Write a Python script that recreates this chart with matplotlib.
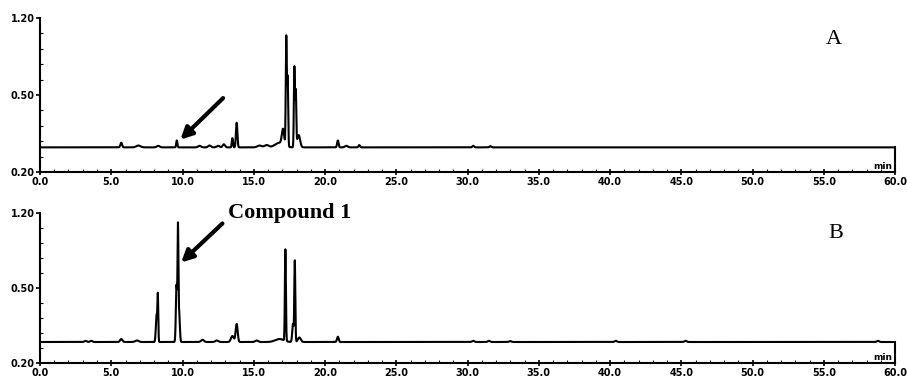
import numpy as np
import matplotlib
matplotlib.use("Agg")
import matplotlib.pyplot as plt

# peak tables: retention time (min), height above baseline, width (min)
base_a = 0.36
rt_a = [5.7, 6.9, 8.3, 9.6, 11.2, 11.9, 12.5, 12.9, 13.5, 13.8, 15.4, 15.9, 16.8, 17.05, 17.28, 17.38, 17.85, 17.95, 18.15, 20.9, 21.5, 22.4, 30.4, 31.6]
h_a = [0.03, 0.012, 0.01, 0.045, 0.01, 0.012, 0.01, 0.02, 0.06, 0.16, 0.012, 0.015, 0.03, 0.1, 0.71, 0.45, 0.52, 0.36, 0.08, 0.045, 0.01, 0.015, 0.01, 0.008]
w_a = [0.06, 0.15, 0.1, 0.04, 0.1, 0.1, 0.1, 0.08, 0.04, 0.05, 0.15, 0.15, 0.3, 0.08, 0.035, 0.035, 0.035, 0.035, 0.1, 0.05, 0.1, 0.05, 0.06, 0.06]

base_b = 0.34
rt_b = [3.2, 3.6, 5.7, 6.8, 8.18, 8.27, 9.58, 9.68, 9.76, 11.4, 12.4, 13.5, 13.8, 15.2, 16.8, 17.22, 17.75, 17.88, 18.2, 20.9, 30.4, 31.5, 33.0, 40.4, 45.3, 58.8]
h_b = [0.008, 0.008, 0.02, 0.01, 0.18, 0.29, 0.38, 0.71, 0.2, 0.015, 0.01, 0.04, 0.12, 0.01, 0.02, 0.61, 0.12, 0.54, 0.03, 0.035, 0.008, 0.008, 0.006, 0.008, 0.008, 0.008]
w_b = [0.08, 0.08, 0.08, 0.12, 0.05, 0.03, 0.045, 0.03, 0.05, 0.1, 0.1, 0.1, 0.07, 0.1, 0.3, 0.035, 0.05, 0.035, 0.1, 0.06, 0.08, 0.08, 0.08, 0.08, 0.08, 0.08]

xticks = [0, 5, 10, 15, 20, 25, 30, 35, 40, 45, 50, 55, 60]
xticklabels = ["0.0", "5.0", "10.0", "15.0", "20.0", "25.0", "30.0", "35.0", "40.0", "45.0", "50.0", "55.0", "60.0"]
yticks = [0.2, 0.7, 1.2]
yticklabels = ["0.20", "0.50", "1.20"]

t = np.linspace(0, 60, 24001)


def trace(base, rts, hs, ws):
    y = np.full_like(t, base)
    for rt, h, w in zip(rts, hs, ws):
        y += h * np.exp(-0.5 * ((t - rt) / w) ** 2)
    return y


fig = plt.figure(figsize=(9.07, 3.83), dpi=100)
ax_a = fig.add_axes([0.0441, 0.5509, 0.9427, 0.4021])
ax_b = fig.add_axes([0.0441, 0.0522, 0.9427, 0.3917])

for ax, base, rts, hs, ws in [(ax_a, base_a, rt_a, h_a, w_a), (ax_b, base_b, rt_b, h_b, w_b)]:
    ax.plot(t, trace(base, rts, hs, ws), color="black", lw=1.5)
    ax.set_xlim(0, 60)
    ax.set_ylim(0.2, 1.2)
    ax.spines["top"].set_visible(False)
    ax.spines["right"].set_bounds(0.2, base)
    for s in ax.spines.values():
        s.set_linewidth(1.5)
    ax.set_xticks(xticks)
    ax.set_xticklabels(xticklabels, fontsize=7, fontweight="bold")
    ax.set_xticks(np.arange(0, 61, 1), minor=True)
    ax.set_yticks(yticks)
    ax.set_yticklabels(yticklabels, fontsize=7, fontweight="bold")
    ax.set_yticks(np.arange(0.2, 1.21, 0.1), minor=True)
    ax.tick_params(axis="x", which="major", direction="inout", length=5, width=1.2, pad=1)
    ax.tick_params(axis="x", which="minor", direction="in", length=2, width=0.8)
    ax.tick_params(axis="y", which="major", direction="out", length=3, width=1.2, pad=1)
    ax.tick_params(axis="y", which="minor", direction="in", length=2, width=0.8)
    ax.text(59.8, 0.205, "min", fontsize=6.5, fontweight="bold", ha="right", va="bottom")
    ax.patch.set_alpha(0)

fig.text(834 / 907, 1 - 40 / 383, "A", fontsize=16, family="Liberation Serif", ha="center", va="center")
fig.text(836 / 907, 1 - 233 / 383, "B", fontsize=16, family="Liberation Serif", ha="center", va="center")

ax_a.annotate("", xy=(9.85, 0.41), xytext=(12.85, 0.68),
              arrowprops=dict(arrowstyle="-|>,head_length=0.7,head_width=0.35", lw=3, color="black", shrinkA=0, shrinkB=0))
ax_b.annotate("", xy=(9.9, 0.87), xytext=(12.8, 1.13),
              arrowprops=dict(arrowstyle="-|>,head_length=0.7,head_width=0.35", lw=3, color="black", shrinkA=0, shrinkB=0))
ax_b.text(13.2, 1.2, "Compound 1", fontsize=16, fontweight="bold", family="Liberation Serif",
          ha="left", va="center", clip_on=False)

fig.savefig("out.png", dpi=100)
